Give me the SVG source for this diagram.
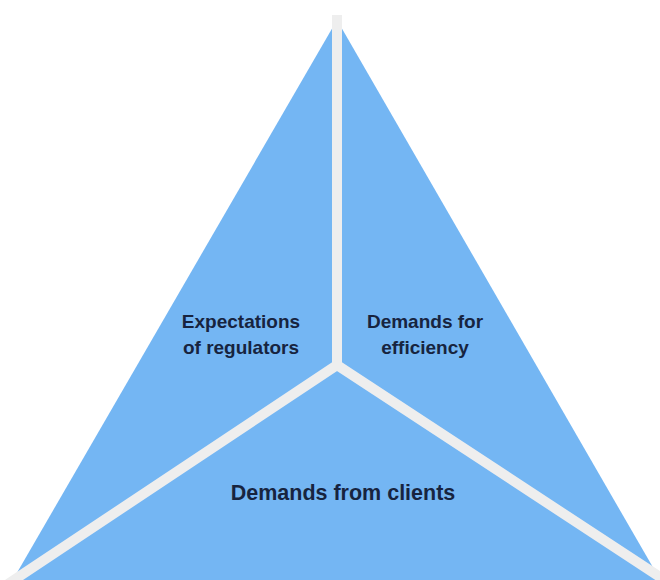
<svg xmlns="http://www.w3.org/2000/svg" width="660" height="580" viewBox="0 0 660 580">
  <style>
    .face { fill: #74b6f3; }
    .divider { fill: none; stroke: #eeeeee; stroke-width: 10; stroke-linecap: butt; stroke-linejoin: miter; }
    .label { font-family: "Liberation Sans", Arial, sans-serif; font-weight: bold; fill: #17243f; text-anchor: middle; }
  </style>
  <rect width="660" height="580" fill="#ffffff"/>

  <!-- the pyramid face -->
  <polygon class="face" points="337,20 7,590 666,590"/>

  <!-- three regions with their labels -->
  <g id="regulators">
    <text class="label" x="241" y="328" font-size="19">Expectations</text>
    <text class="label" x="241" y="354" font-size="19">of regulators</text>
  </g>
  <g id="efficiency">
    <text class="label" x="425" y="328" font-size="19">Demands for</text>
    <text class="label" x="425" y="354" font-size="19">efficiency</text>
  </g>
  <g id="clients">
    <text class="label" x="343" y="500" font-size="21.5">Demands from clients</text>
  </g>

  <!-- dividing lines between the regions -->
  <g id="connectors">
    <polyline class="divider" points="8,584 337,365 666,581"/>
    <line class="divider" x1="337" y1="15" x2="337" y2="366"/>
  </g>
</svg>
